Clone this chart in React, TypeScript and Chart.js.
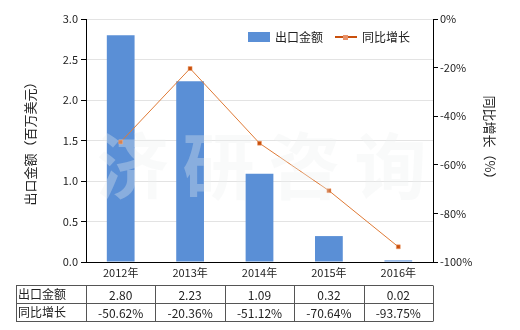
import React, { useEffect, useRef } from 'react';
import { Chart, registerables } from 'chart.js';
Chart.register(...registerables);

const categories = ['2012年', '2013年', '2014年', '2015年', '2016年'];
const exportValues = [2.8, 2.23, 1.09, 0.32, 0.02];
const growthValues = [-50.62, -20.36, -51.12, -70.64, -93.75];
const exportLabels = ['2.80', '2.23', '1.09', '0.32', '0.02'];
const growthLabels = ['-50.62%', '-20.36%', '-51.12%', '-70.64%', '-93.75%'];
const seriesNames = ['出口金额', '同比增长'];
const leftTitle = '出口金额（百万美元）';
const rightTitle = '同比增长（%）';
const watermark = '济研咨询';

const FONT = "'Noto Sans CJK SC', 'Noto Sans', sans-serif";
const BAR = '#5a8fd6';
const LINE = '#df7a36';
const MARK = '#c9500c';
const TXT = '#222';

const extrasPlugin = {
  id: 'extras',
  afterDraw(chart: any) {
    const ctx = chart.ctx as CanvasRenderingContext2D;
    const area = chart.chartArea;
    ctx.save();
    // watermark
    ctx.font = `bold 72px ${FONT}`;
    ctx.fillStyle = 'rgba(235,240,240,0.32)';
    ctx.textAlign = 'center';
    ctx.textBaseline = 'middle';
    const chars = Array.from(watermark);
    const cx = (area.left + area.right) / 2 + 2;
    const step = 86;
    chars.forEach((c, i) => {
      ctx.fillText(c, cx + (i - (chars.length - 1) / 2) * step, 166);
    });

    // legend
    ctx.font = `12px ${FONT}`;
    ctx.textAlign = 'left';
    ctx.textBaseline = 'middle';
    ctx.fillStyle = BAR;
    ctx.fillRect(248, 32, 22, 10);
    ctx.fillStyle = TXT;
    ctx.fillText(seriesNames[0], 275, 37);
    ctx.strokeStyle = MARK;
    ctx.lineWidth = 2;
    ctx.beginPath();
    ctx.moveTo(335, 37);
    ctx.lineTo(357, 37);
    ctx.stroke();
    ctx.fillStyle = '#e8926a';
    ctx.fillRect(343, 35, 5, 5);
    ctx.fillStyle = TXT;
    ctx.fillText(seriesNames[1], 362, 37);

    // table
    const tLeft = 16;
    const tRight = area.right;
    const top = 285.5;
    const mid = 303.5;
    const bot = 321.5;
    const n = categories.length;
    const colW = (area.right - area.left) / n;
    ctx.strokeStyle = '#555';
    ctx.lineWidth = 1;
    ctx.beginPath();
    [top, mid, bot].forEach((y) => {
      ctx.moveTo(tLeft, y);
      ctx.lineTo(tRight, y);
    });
    const xs = [tLeft, area.left];
    for (let i = 1; i <= n; i++) xs.push(area.left + colW * i);
    xs.forEach((x) => {
      const px = Math.round(x) + 0.5;
      ctx.moveTo(px, top);
      ctx.lineTo(px, bot);
    });
    ctx.stroke();
    ctx.fillStyle = TXT;
    ctx.font = `12px ${FONT}`;
    ctx.textAlign = 'left';
    ctx.fillText(seriesNames[0], 18, (top + mid) / 2);
    ctx.fillText(seriesNames[1], 18, (mid + bot) / 2);
    ctx.textAlign = 'center';
    for (let i = 0; i < n; i++) {
      const x = area.left + colW * (i + 0.5);
      ctx.fillText(exportLabels[i], x, (top + mid) / 2 + 1);
      ctx.fillText(growthLabels[i], x, (mid + bot) / 2 + 1);
    }
    ctx.restore();
  },
};

export default function App() {
  const ref = useRef<HTMLCanvasElement>(null);
  useEffect(() => {
    if (!ref.current) return;
    const chart = new Chart(ref.current, {
      type: 'bar',
      data: {
        labels: categories,
        datasets: [
          {
            type: 'line',
            label: seriesNames[1],
            data: growthValues,
            yAxisID: 'y1',
            borderColor: LINE,
            borderWidth: 1,
            backgroundColor: MARK,
            pointStyle: 'rect',
            pointRadius: 2.8,
            pointBorderColor: '#f0a070',
            pointBorderWidth: 0.5,
            pointBackgroundColor: MARK,
            order: 0,
          } as any,
          {
            type: 'bar',
            label: seriesNames[0],
            data: exportValues,
            yAxisID: 'y',
            backgroundColor: BAR,
            barPercentage: 0.4,
            categoryPercentage: 1,
            order: 1,
          },
        ],
      },
      options: {
        responsive: false,
        animation: false,
        layout: { padding: { top: 19, left: 0, right: 0, bottom: 0 } },
        plugins: { legend: { display: false }, tooltip: { enabled: false } },
        scales: {
          x: {
            afterFit(s: any) { s.height = 68; },
            grid: { display: false, drawTicks: false },
            border: { display: true, color: '#000', width: 1 },
            ticks: { color: TXT, font: { family: FONT, size: 11 }, padding: 4, maxRotation: 0 },
          },
          y: {
            position: 'left',
            min: 0,
            max: 3,
            afterFit(s: any) { s.width = 86; },
            ticks: {
              stepSize: 0.5,
              color: TXT,
              font: { family: FONT, size: 11 },
              padding: 3,
              callback: (v: any) => Number(v).toFixed(1),
            },
            grid: { color: '#e3e3e3', tickColor: '#000', tickLength: 5 },
            border: { display: true, color: '#000', width: 1 },
            title: { display: true, text: leftTitle, color: TXT, font: { family: FONT, size: 13 }, padding: { top: 22, bottom: 0 } },
          },
          y1: {
            position: 'right',
            min: -100,
            max: 0,
            afterFit(s: any) { s.width = 87; },
            ticks: {
              stepSize: 20,
              color: TXT,
              font: { family: FONT, size: 11 },
              padding: 2,
              callback: (v: any) => `${v}%`,
            },
            grid: { drawOnChartArea: false, tickColor: '#000', tickLength: 5 },
            border: { display: true, color: '#000', width: 1 },
            title: { display: true, text: rightTitle, color: TXT, font: { family: FONT, size: 13 }, padding: { top: 22, bottom: 0 } },
          },
        },
      } as any,
      plugins: [extrasPlugin],
    });
    return () => chart.destroy();
  }, []);
  return (
    <div style={{ position: 'absolute', left: 0, top: 0, width: 520, height: 330, background: '#fff' }}>
      <canvas ref={ref} width={520} height={330} />
    </div>
  );
}
